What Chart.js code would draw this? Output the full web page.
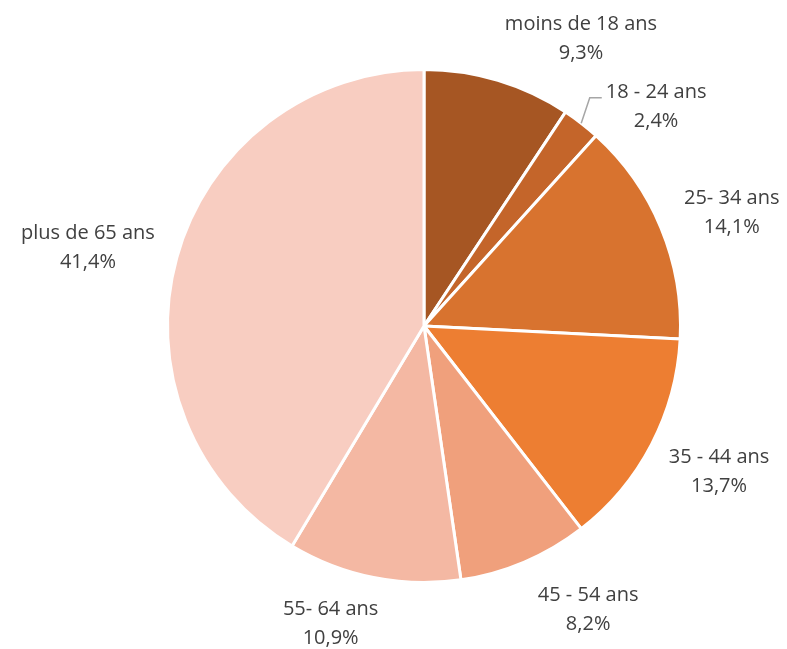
<!DOCTYPE html>
<html lang="fr">
<head>
<meta charset="UTF-8">
<title>Répartition par âge</title>
<script src="https://cdn.jsdelivr.net/npm/chart.js@4"></script>
<style>
  html, body { margin: 0; padding: 0; background: #fff; }
  #wrap { width: 787px; height: 649px; }
</style>
</head>
<body>
<div id="wrap"><canvas id="agesChart"></canvas></div>
<script>
// données
const categories = ['moins de 18 ans', '18 - 24 ans', '25- 34 ans', '35 - 44 ans', '45 - 54 ans', '55- 64 ans', 'plus de 65 ans'];
const parts = [9.3, 2.4, 14.1, 13.7, 8.2, 10.9, 41.4];
const couleurs = ['#A65623', '#C4652A', '#D8732F', '#ED7E32', '#F0A07C', '#F4B8A3', '#F8CDC1'];

// petits décalages des étiquettes (comme déplacées à la main dans Excel)
const decalages = [[56, 3], [33, 21], [10, 3], [7, 5], [37, 5], [-30, 0], [-7, 3]];
const avecRepere = [false, true, false, false, false, false, false];

const etiquettes = {
  id: 'etiquettes',
  afterDatasetsDraw(chart) {
    const ctx = chart.ctx;
    const meta = chart.getDatasetMeta(0);
    ctx.save();
    ctx.font = '20px "Open Sans"';
    ctx.fillStyle = '#404040';
    ctx.textAlign = 'center';
    ctx.textBaseline = 'middle';
    const lh = 29;
    meta.data.forEach((arc, i) => {
      const p = arc.getProps(['x', 'y', 'startAngle', 'endAngle', 'outerRadius']);
      const mid = (p.startAngle + p.endAngle) / 2;
      const cos = Math.cos(mid), sin = Math.sin(mid);
      const l1 = categories[i];
      const l2 = parts[i].toFixed(1).replace('.', ',') + '%';
      const w = Math.max(ctx.measureText(l1).width, ctx.measureText(l2).width);
      const h = lh * 2;
      const ax = p.x + cos * (p.outerRadius + 18);
      const ay = p.y + sin * (p.outerRadius + 18);
      const cx = ax + cos * w / 2 + decalages[i][0];
      const cy = ay + sin * h / 2 + decalages[i][1];
      if (avecRepere[i]) {
        const sx = p.x + cos * p.outerRadius;
        const sy = p.y + sin * p.outerRadius;
        const ex = cx - ctx.measureText(l1).width / 2 - 4;
        const ey = cy - lh / 2 + 5;
        ctx.beginPath();
        ctx.strokeStyle = '#A6A6A6';
        ctx.lineWidth = 1.5;
        ctx.moveTo(sx, sy);
        ctx.lineTo(ex - 12, ey);
        ctx.lineTo(ex, ey);
        ctx.stroke();
      }
      ctx.fillText(l1, cx, cy - lh / 2);
      ctx.fillText(l2, cx, cy + lh / 2);
    });
    ctx.restore();
  }
};

new Chart(document.getElementById('agesChart'), {
  type: 'pie',
  data: {
    labels: categories,
    datasets: [{
      data: parts,
      backgroundColor: couleurs,
      borderColor: '#ffffff',
      borderWidth: 3
    }]
  },
  options: {
    responsive: true,
    maintainAspectRatio: false,
    animation: false,
    layout: { padding: { top: 68, bottom: 65, left: 166, right: 105 } },
    plugins: {
      legend: { display: false },
      tooltip: { enabled: false }
    }
  },
  plugins: [etiquettes]
});
</script>
</body>
</html>
